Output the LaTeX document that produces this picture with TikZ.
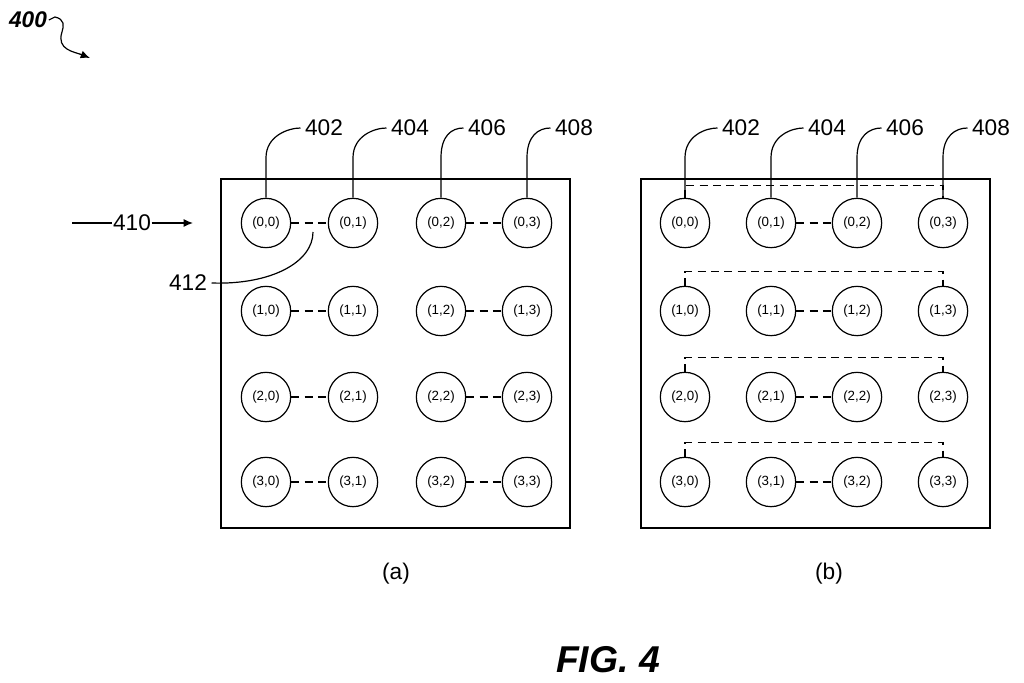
\documentclass[tikz,border=0pt]{standalone}
\usepackage{fontspec}
\setmainfont{Liberation Sans}
\usetikzlibrary{arrows.meta}
\begin{document}
\begin{tikzpicture}[
    x=0.75pt, y=-0.75pt,
    line width=0.9pt,
    >={Latex[length=7pt,width=6pt]},
    cell/.style={
        circle,
        draw,
        minimum size=37pt,
        inner sep=0pt,
        font=\fontsize{10}{12}\selectfont
    },
    ref/.style={font=\fontsize{17}{19}\selectfont, inner sep=3pt},
    link/.style={dash pattern=on 6pt off 4pt}
]

\useasboundingbox (0,0) rectangle (1024,682);

% array frames
\draw (221,179) rectangle (570,528);
\draw (641,179) rectangle (990,528);

% cells of both arrays
\foreach \r/\y in {0/223,1/311,2/397,3/482}{
  \foreach \c/\xa/\xb in {0/266/685,1/353/771,2/441/857,3/527/943}{
    \node[cell] (a\r\c) at (\xa,\y) {(\r,\c)};
    \node[cell] (b\r\c) at (\xb,\y) {(\r,\c)};
  }
  \draw[link] (a\r0) -- (a\r1);
  \draw[link] (a\r2) -- (a\r3);
  \draw[link] (b\r1) -- (b\r2);
}

% row brackets in (b)
\draw[link] (b00.north) -- ++(0,-12) -- ([yshift=9pt]b03.north) -- (b03.north);
\foreach \r in {1,2,3}{
  \draw[link] (b\r0.north) -- ++(0,-14) -- ([yshift=10.5pt]b\r3.north) -- (b\r3.north);
}

% column labels
\foreach \c/\n/\xa/\xb in {0/402/324/741,1/404/410/827,2/406/487/905,3/408/574/991}{
  \node[ref] (la\c) at (\xa,128) {\n};
  \node[ref] (lb\c) at (\xb,128) {\n};
  \draw (a0\c.north) -- ++(0,-40) .. controls +(0,-22) and +(-12,0) .. (la\c.west);
  \draw (b0\c.north) -- ++(0,-40) .. controls +(0,-22) and +(-12,0) .. (lb\c.west);
}

% input arrow
\node[ref, inner sep=0pt] (l410) at (132,223) {410};
\coordinate (in) at (72,223);
\coordinate (tip) at (193,223);
\draw (in) -- (l410.west);
\draw[->] (l410.east) -- (tip);

% connection label
\node[ref] (l412) at (188,283) {412};
\coordinate (gap) at (313,232);
\draw (l412.east) .. controls +(60,2) and +(0,30) .. (gap);

% figure number
\node[font=\bfseries\itshape\fontsize{17}{19}\selectfont, inner sep=1pt] (l400) at (28,20) {400};
\coordinate (fig) at (90,58);
\draw[->] (l400.east) -- ++(6,-3) .. controls +(10,2) and +(2,-6) .. (62,32) .. controls +(-6,18) and +(-15,-6) .. (fig);

\node[ref] (capa) at (396,574) {(a)};
\node[ref] (capb) at (829,574) {(b)};
\node[font=\bfseries\itshape\fontsize{28}{32}\selectfont] (title) at (608,660) {FIG. 4};

\end{tikzpicture}
\end{document}
